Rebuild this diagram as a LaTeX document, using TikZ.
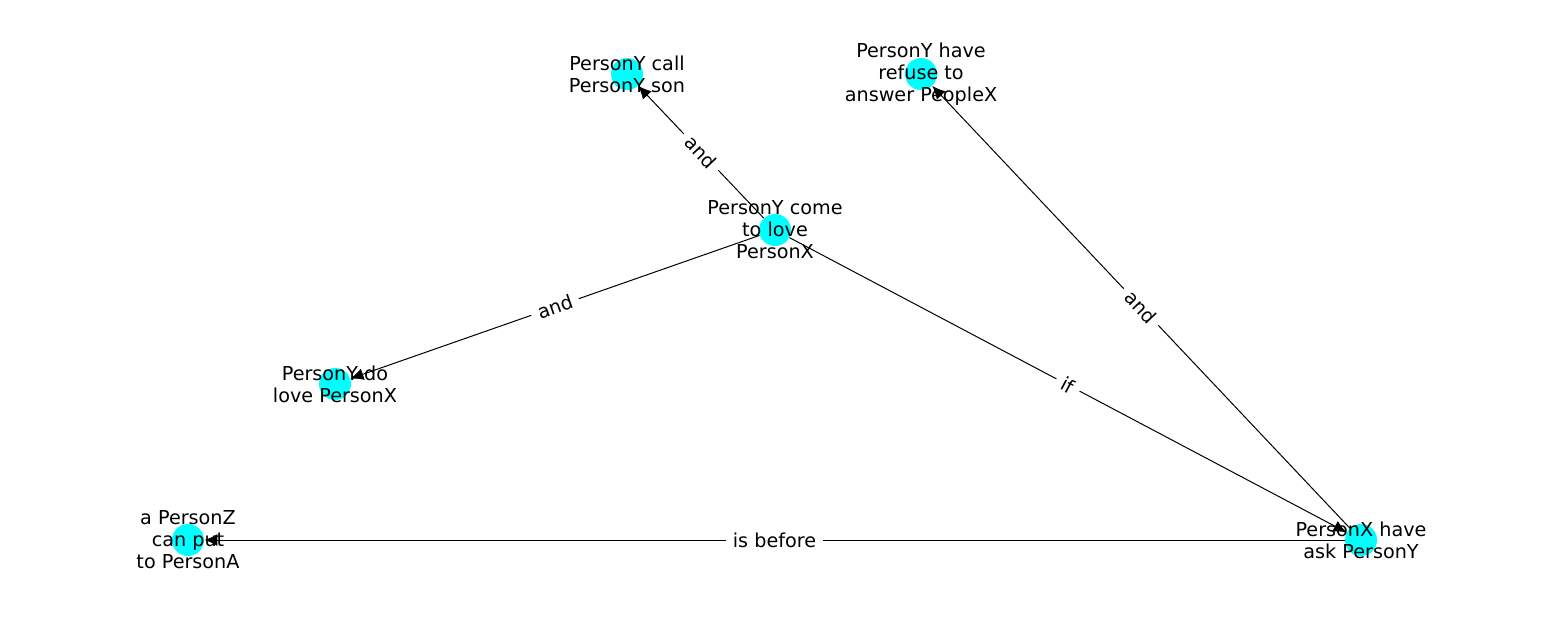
\documentclass[tikz,border=0pt]{standalone}
\usepackage{fontspec}
\setmainfont{DejaVu Sans}
\usetikzlibrary{arrows.meta}
\definecolor{nodecyan}{RGB}{0,255,255}

\begin{document}
\begin{tikzpicture}[x=0.5pt,y=-0.5pt,
  dot/.style={circle,fill=nodecyan,minimum size=16pt,inner sep=0pt},
  txt/.style={align=center,inner sep=0pt,font=\fontsize{9.6}{11}\selectfont},
  edge/.style={->,>={Latex[length=6.5pt,width=6pt]},line width=0.5pt,black},
  lbl/.style={midway,sloped,fill=white,inner sep=3.5pt,font=\fontsize{9.6}{11}\selectfont}]
\useasboundingbox (0,0) rectangle (1550,616);

\node[dot] (A) at (627,74) {};
\node[dot] (B) at (921,74) {};
\node[dot] (C) at (775,230) {};
\node[dot] (D) at (335,384) {};
\node[dot] (E) at (188,540) {};
\node[dot] (F) at (1361,540) {};

\draw[edge] (C) -- node[lbl] {and} (A);
\draw[edge] (C) -- node[lbl] {and} (D);
\draw[edge] (C) -- node[lbl] {if} (F);
\draw[edge] (F) -- node[lbl] {and} (B);
\draw[edge] (F) -- node[lbl] {is before} (E);

\node[txt] (tA) at (627,74) {PersonY call\\PersonY son};
\node[txt] (tB) at (921,74) {PersonY have\\refuse to\\answer PeopleX};
\node[txt] (tC) at (775,230) {PersonY come\\to love\\PersonX};
\node[txt] (tD) at (335,384) {PersonY do\\love PersonX};
\node[txt] (tE) at (188,540) {a PersonZ\\can put\\to PersonA};
\node[txt] (tF) at (1361,540) {PersonX have\\ask PersonY};

\end{tikzpicture}
\end{document}
